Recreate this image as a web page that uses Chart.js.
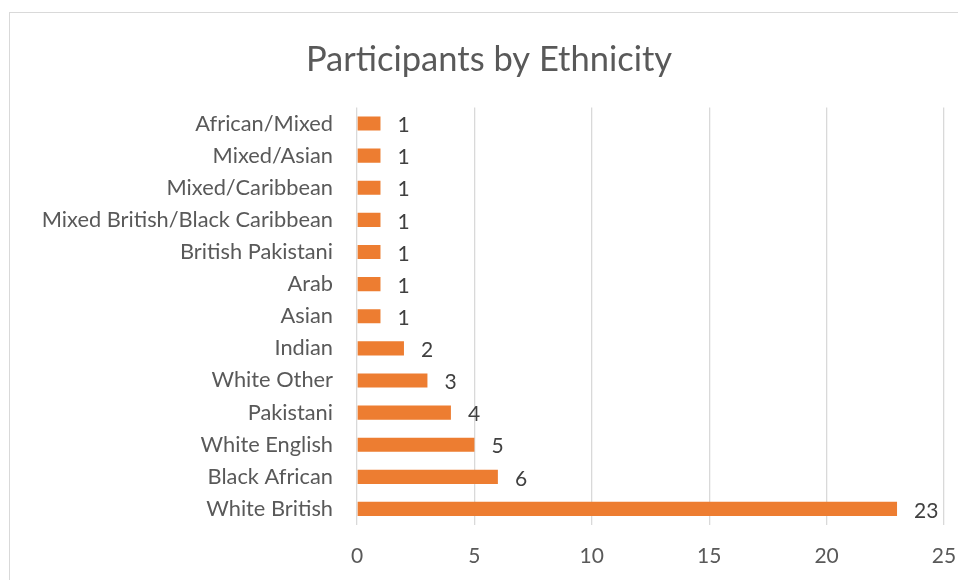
<!DOCTYPE html>
<html>
<head>
<meta charset="utf-8">
<script src="https://cdn.jsdelivr.net/npm/chart.js@4.4.1/dist/chart.umd.min.js"></script>
<style>
  html, body { margin: 0; padding: 0; background: #fff; }
  #wrap { position: relative; width: 958px; height: 580px; overflow: hidden; }
  #frame { position: absolute; left: 9px; top: 12px; width: 980px; height: 600px; border: 1px solid #d9d9d9; box-sizing: border-box; }
  canvas { position: absolute; left: 0; top: 0; }
</style>
</head>
<body>
<div id="wrap">
  <div id="frame"></div>
  <canvas id="c" width="958" height="580"></canvas>
</div>
<script>
const categories = [
  "African/Mixed", "Mixed/Asian", "Mixed/Caribbean", "Mixed British/Black Caribbean",
  "British Pakistani", "Arab", "Asian", "Indian", "White Other", "Pakistani",
  "White English", "Black African", "White British"
];
const participants = [1, 1, 1, 1, 1, 1, 1, 2, 3, 4, 5, 6, 23];
const xTicks = [0, 5, 10, 15, 20, 25];

const FONT = "Lato, 'Open Sans', sans-serif";

const valueLabels = {
  id: 'valueLabels',
  afterDatasetsDraw(chart) {
    const ctx = chart.ctx;
    const meta = chart.getDatasetMeta(0);
    ctx.save();
    ctx.font = "21px " + FONT;
    ctx.fillStyle = "#404040";
    ctx.textAlign = "left";
    ctx.textBaseline = "middle";
    meta.data.forEach((bar, i) => {
      ctx.fillText(String(chart.data.datasets[0].data[i]), bar.x + 17, bar.y + 2);
    });
    ctx.restore();
  }
};

new Chart(document.getElementById('c'), {
  type: 'bar',
  data: {
    labels: categories,
    datasets: [{
      data: participants,
      backgroundColor: '#ED7D31',
      borderWidth: 0,
      barPercentage: 0.44,
      categoryPercentage: 1
    }]
  },
  options: {
    indexAxis: 'y',
    responsive: false,
    animation: false,
    layout: { padding: { left: 20, right: 0, top: 0, bottom: 0 } },
    plugins: {
      legend: { display: false },
      tooltip: { enabled: false },
      title: {
        display: true,
        text: 'Participants by Ethnicity',
        color: '#595959',
        font: { family: FONT, size: 34.5, weight: 'normal' },
        padding: { top: 39, bottom: 27 }
      }
    },
    scales: {
      x: {
        min: 0, max: 25,
        afterBuildTicks(scale) { scale.ticks = xTicks.map(v => ({ value: v })); },
        grid: { color: '#d9d9d9', lineWidth: 1.3, drawTicks: false },
        border: { display: false },
        ticks: { color: '#595959', font: { family: FONT, size: 21 }, padding: 19 },
        afterFit(scale) { scale.height = 55; scale.paddingRight = 14; scale.paddingLeft = 0; }
      },
      y: {
        grid: { display: false, drawTicks: false },
        border: { display: false },
        ticks: { color: '#595959', font: { family: FONT, size: 21.8 }, padding: 24, autoSkip: false },
        afterFit(scale) { scale.width = 337; }
      }
    }
  },
  plugins: [valueLabels]
});
</script>
</body>
</html>
